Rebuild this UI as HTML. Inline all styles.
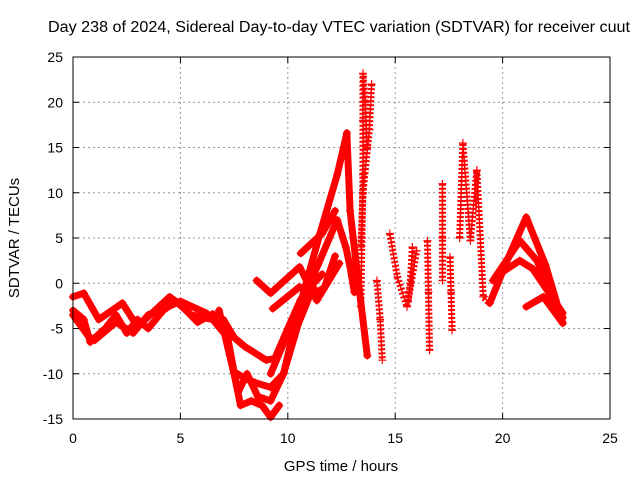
<!DOCTYPE html>
<html><head><meta charset="utf-8"><style>
body{margin:0;background:#fff}
svg text{font-family:"Liberation Sans",sans-serif;font-size:14px;fill:#000}
</style></head><body>
<svg id="c" width="640" height="480" xmlns="http://www.w3.org/2000/svg">
<rect width="640" height="480" fill="#fff"/>
<text x="48" y="32" textLength="582" lengthAdjust="spacingAndGlyphs" style="font-size:15.5px">Day 238 of 2024, Sidereal Day-to-day VTEC variation (SDTVAR) for receiver cuut</text>
<text x="341" y="471" text-anchor="middle" style="font-size:15px">GPS time / hours</text>
<text transform="translate(19,238) rotate(-90)" text-anchor="middle" style="font-size:15px">SDTVAR / TECUs</text>
<g id="grid"></g><g id="marks"></g><g id="axes"></g>
</svg>
<script>
const xTicks=[0,5,10,15,20,25];
const yTicks=[-15,-10,-5,0,5,10,15,20,25];
// solid (dense) tracks: [hour, value]
const trackL1=[[0,-1.5],[0.5,-1.1],[1.2,-4],[2.3,-2.2],[3,-4.8],[4.5,-1.5],[5.1,-2.6],[5.8,-4.3],[6.5,-3.4],[7,-4],[7.5,-6],[8,-7],[9,-8.5],[9.4,-8.3],[10,-5],[10.6,-1.8],[11.2,0],[11.6,1]];
const trackL2=[[0,-3],[0.5,-4],[0.8,-6.5],[1.5,-5],[2,-3.5],[2.5,-5.5],[3,-4],[3.5,-5],[4.2,-3],[4.8,-2],[5.5,-3.5],[6.5,-4],[7.2,-6],[7.5,-9.8],[8,-10.5],[8.5,-11],[9.2,-11.5],[9.8,-10],[10.3,-6],[10.8,-2],[11.2,-0.5]];
const trackL3=[[0,-3.5],[0.7,-5.8],[1,-6.3],[2,-4.3],[2.8,-5.5],[3.5,-3.5],[4.2,-2.8],[5,-2],[6.2,-3.3],[7,-5],[7.5,-10],[7.8,-13.5],[8.3,-13],[8.8,-13.5],[9.2,-14.8],[9.6,-13.5]];
const trackL4=[[6.8,-3],[7.3,-8],[7.7,-12],[8.1,-10],[8.6,-12.5],[9.2,-13],[9.8,-10],[10.4,-5],[11,-1.5],[11.7,-0.5],[12.2,3]];
const trackM1=[[9.8,-10],[10.5,-3],[11.5,5.5],[12.3,12],[12.75,16.6],[12.9,8],[13.2,1.8],[13.7,-8]];
const trackM2=[[9.2,-10],[10.6,-2.2],[11.4,2],[12.3,7],[12.7,4],[12.9,1.8],[13.1,-1]];
const trackM3=[[8.55,0.3],[9.2,-1.1],[10.55,1.8],[11.35,-1.9],[12.4,2.2]];
const trackM4=[[9.3,-2.8],[10.55,-0.4]];
const trackM5=[[10.6,3.3],[11.6,5.5],[12.2,8]];
const trackR1=[[19.4,-2.2],[20.3,3],[21.1,7.3],[22,2],[22.8,-4.4]];
const trackR2=[[19.55,0.3],[20.8,4.7],[21.6,2.5],[22.8,-3.8]];
const trackR3=[[19.9,1.1],[20.8,2.5],[21.4,1.6],[22.8,-3.3]];
const trackR4=[[21.1,-2.6],[21.9,-1.5],[22.8,-4.4]];
// sparse plus tracks
const trackP1=[[13.4,-2.6],[13.45,5],[13.5,12],[13.5,18],[13.5,23.2],[13.6,20],[13.7,15]];
const trackP2=[[13.9,22],[13.8,17],[13.5,10],[13.4,4]];
const trackP3=[[14.15,0.3],[14.3,-4],[14.4,-8.5]];
const trackP4=[[14.75,5.5],[15.1,0.7],[15.55,-2.6],[16,3.6]];
const trackP5=[[15.8,4],[15.7,0],[15.6,-2]];
const trackP6=[[16.5,4.7],[16.55,-1],[16.6,-7.4]];
const trackP7=[[17.2,11],[17.2,5],[17.2,0.3]];
const trackP8=[[17.55,2.9],[17.6,-1],[17.65,-5.2]];
const trackP9=[[18.0,5],[18.15,15.5],[18.5,4.7],[18.8,12.5],[19.1,-1.5],[19.4,-2.2]];
const solidTracks=[trackL1,trackL2,trackL3,trackL4,trackM1,trackM2,trackM3,trackM4,trackM5,trackR1,trackR2,trackR3,trackR4];
const sparseTracks=[trackP1,trackP2,trackP3,trackP4,trackP5,trackP6,trackP7,trackP8,trackP9];

const X0=73,X1=610,Y0=419,Y1=57;
const sx=t=>X0+(t-0)/(25-0)*(X1-X0);
const sy=v=>Y0-(v+15)/(40)*(Y0-Y1);
const NS="http://www.w3.org/2000/svg";
function mk(tag,attrs,parent){const e=document.createElementNS(NS,tag);for(const k in attrs)e.setAttribute(k,attrs[k]);parent.appendChild(e);return e;}
const grid=document.getElementById('grid'),marks=document.getElementById('marks'),axes=document.getElementById('axes');
xTicks.forEach(t=>{
  if(t>0&&t<25){const l=mk('line',{x1:sx(t),x2:sx(t),y1:Y1,y2:Y0,stroke:'#999','stroke-dasharray':'2,3'},grid);
  
  }
  const tx=mk('text',{x:sx(t),y:Y0+24,'text-anchor':'middle'},axes);tx.textContent=t;
  
  
  mk('line',{x1:sx(t),x2:sx(t),y1:Y0,y2:Y0-6,stroke:'#000'},axes);
  mk('line',{x1:sx(t),x2:sx(t),y1:Y1,y2:Y1+6,stroke:'#000'},axes);
});
yTicks.forEach(v=>{
  if(v>-15&&v<25){const l=mk('line',{x1:X0,x2:X1,y1:sy(v),y2:sy(v),stroke:'#999','stroke-dasharray':'2,3'},grid);
  
  }
  const tx=mk('text',{x:X0-10,y:sy(v)+5,'text-anchor':'end'},axes);tx.textContent=v;
  
  
  mk('line',{x1:X0,x2:X0+6,y1:sy(v),y2:sy(v),stroke:'#000'},axes);
  mk('line',{x1:X1,x2:X1-6,y1:sy(v),y2:sy(v),stroke:'#000'},axes);
});
const frame=mk('rect',{x:X0,y:Y1,width:X1-X0,height:Y0-Y1,fill:'none',stroke:'#000'},axes);


function plus(t,v){mk('path',{d:`M${sx(t)-4},${sy(v)}h8M${sx(t)},${sy(v)-4}v8`,stroke:'red','stroke-width':1.2},marks);}
solidTracks.forEach(tr=>{
  const p=mk('polyline',{points:tr.map(d=>sx(d[0])+','+sy(d[1])).join(' '),fill:'none',stroke:'red','stroke-width':7,'stroke-linejoin':'round','stroke-linecap':'round'},marks);
  
  
  tr.forEach(d=>plus(d[0],d[1]));
});
sparseTracks.forEach(tr=>{
  const p=mk('polyline',{points:tr.map(d=>sx(d[0])+','+sy(d[1])).join(' '),fill:'none',stroke:'red','stroke-width':7,'stroke-dasharray':'2,2'},marks);
  
  
  const c=mk('polyline',{points:tr.map(d=>sx(d[0])+','+sy(d[1])).join(' '),fill:'none',stroke:'red','stroke-width':1.5},marks);
  
  
  tr.forEach(d=>plus(d[0],d[1]));
});
</script>
</body></html>
